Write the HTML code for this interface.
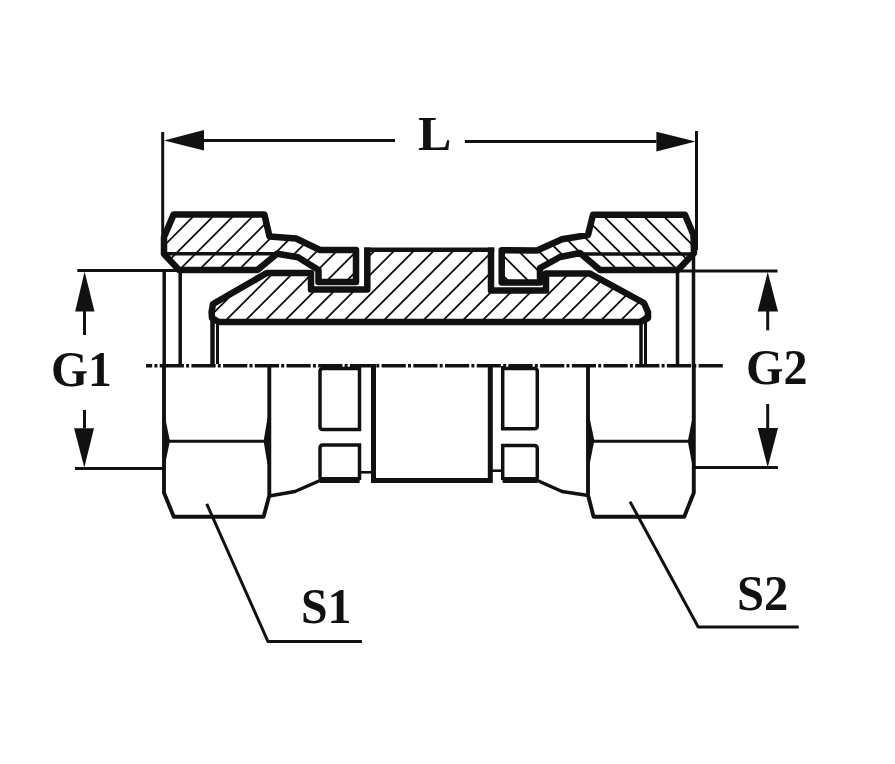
<!DOCTYPE html>
<html><head><meta charset="utf-8"><style>
html,body{margin:0;padding:0;background:#fff;}
body{width:895px;height:764px;position:relative;overflow:hidden;}
.t{position:absolute;font-family:"Liberation Serif",serif;font-weight:bold;font-size:49px;line-height:1;color:#111;white-space:nowrap;transform-origin:0 0;}
</style></head><body>
<svg width="895" height="764" viewBox="0 0 895 764" style="position:absolute;left:0;top:0">
<defs>
<clipPath id="cl1"><polygon points="173.6,214.6 264.4,214.6 269.5,236.5 296,238.5 320,250 356,250 356,282 318.5,282 318.5,270 298,257.3 277,253.8 257.4,270 179,270 164,254 164,237"/></clipPath>
<clipPath id="cl2"><polygon points="213,304 266.8,273 311,273 311,289.5 367.3,289.5 367.3,249.5 491,249.5 491,290.5 546,290.5 546,273.5 590,273.6 644,303 648,312 648,318 640,322 218.6,322 212,318 211.6,312"/></clipPath>
<clipPath id="cl3"><polygon points="685,214.8 593,214.8 588,235 562,239.3 537,250.5 501.7,250.3 501.7,282.5 540,282.5 540,268 560,257 580,253 600,270 678,270 694,253 693.5,235"/></clipPath>
</defs>
<path clip-path="url(#cl1)" d="M140.70,209.60L63.30,287.00M160.50,209.60L83.10,287.00M180.30,209.60L102.90,287.00M200.10,209.60L122.70,287.00M219.90,209.60L142.50,287.00M239.70,209.60L162.30,287.00M259.50,209.60L182.10,287.00M279.30,209.60L201.90,287.00M299.10,209.60L221.70,287.00M318.90,209.60L241.50,287.00M338.70,209.60L261.30,287.00M358.50,209.60L281.10,287.00M378.30,209.60L300.90,287.00M398.10,209.60L320.70,287.00M417.90,209.60L340.50,287.00M437.70,209.60L360.30,287.00" stroke="#111" stroke-width="1.8" fill="none"/>
<path clip-path="url(#cl2)" d="M202.95,244.50L120.45,327.00M222.70,244.50L140.20,327.00M242.45,244.50L159.95,327.00M262.20,244.50L179.70,327.00M281.95,244.50L199.45,327.00M301.70,244.50L219.20,327.00M321.45,244.50L238.95,327.00M341.20,244.50L258.70,327.00M360.95,244.50L278.45,327.00M380.70,244.50L298.20,327.00M400.45,244.50L317.95,327.00M420.20,244.50L337.70,327.00M439.95,244.50L357.45,327.00M459.70,244.50L377.20,327.00M479.45,244.50L396.95,327.00M499.20,244.50L416.70,327.00M518.95,244.50L436.45,327.00M538.70,244.50L456.20,327.00M558.45,244.50L475.95,327.00M578.20,244.50L495.70,327.00M597.95,244.50L515.45,327.00M617.70,244.50L535.20,327.00M637.45,244.50L554.95,327.00M657.20,244.50L574.70,327.00M676.95,244.50L594.45,327.00M696.70,244.50L614.20,327.00M716.45,244.50L633.95,327.00" stroke="#111" stroke-width="1.8" fill="none"/>
<path clip-path="url(#cl3)" d="M417.30,209.80L495.00,287.50M437.30,209.80L515.00,287.50M457.30,209.80L535.00,287.50M477.30,209.80L555.00,287.50M497.30,209.80L575.00,287.50M517.30,209.80L595.00,287.50M537.30,209.80L615.00,287.50M557.30,209.80L635.00,287.50M577.30,209.80L655.00,287.50M597.30,209.80L675.00,287.50M617.30,209.80L695.00,287.50M637.30,209.80L715.00,287.50M657.30,209.80L735.00,287.50M677.30,209.80L755.00,287.50M697.30,209.80L775.00,287.50" stroke="#111" stroke-width="1.8" fill="none"/>
<polygon points="173.6,214.6 264.4,214.6 269.5,236.5 296,238.5 320,250 356,250 356,282 318.5,282 318.5,270 298,257.3 277,253.8 257.4,270 179,270 164,254 164,237" fill="none" stroke="#111" stroke-width="6.5" stroke-linejoin="round" />
<polygon points="685,214.8 593,214.8 588,235 562,239.3 537,250.5 501.7,250.3 501.7,282.5 540,282.5 540,268 560,257 580,253 600,270 678,270 694,253 693.5,235" fill="none" stroke="#111" stroke-width="6.5" stroke-linejoin="round" />
<polyline points="491,247.4 491,290.5 546,290.5 546,273.5 590,273.6 644,303 648,312 648,318 640,322 218.6,322 212,318 211.6,312 213,304 266.8,273 311,273 311,289.5 367.3,289.5 367.3,247.4" fill="none" stroke="#111" stroke-width="6.5" stroke-linejoin="round"/>
<line x1="364.05" y1="249.7" x2="494.25" y2="249.7" stroke="#111" stroke-width="4.6"/>
<line x1="164" y1="253.7" x2="277" y2="253.7" stroke="#111" stroke-width="3.6"/>
<line x1="580" y1="254" x2="694" y2="254" stroke="#111" stroke-width="3.6"/>
<line x1="162.7" y1="132" x2="162.7" y2="250" stroke="#111" stroke-width="3"/>
<line x1="696.5" y1="131" x2="696.5" y2="250" stroke="#111" stroke-width="3"/>
<line x1="164.2" y1="270" x2="164.2" y2="366" stroke="#111" stroke-width="3.5"/>
<line x1="180.2" y1="270" x2="180.2" y2="364" stroke="#111" stroke-width="3.5"/>
<line x1="212.5" y1="320" x2="212.5" y2="364" stroke="#111" stroke-width="4.5"/>
<line x1="217.5" y1="320" x2="217.5" y2="364" stroke="#111" stroke-width="3"/>
<line x1="641" y1="322" x2="641" y2="364" stroke="#111" stroke-width="3.5"/>
<line x1="645.5" y1="322" x2="645.5" y2="364" stroke="#111" stroke-width="3"/>
<line x1="677.5" y1="270" x2="677.5" y2="364" stroke="#111" stroke-width="3.5"/>
<line x1="693.5" y1="253" x2="693.5" y2="366" stroke="#111" stroke-width="3.5"/>
<line x1="204" y1="140.5" x2="395" y2="140.5" stroke="#111" stroke-width="3"/>
<line x1="465" y1="141.4" x2="656.4" y2="141.4" stroke="#111" stroke-width="3"/>
<polygon points="164,140.5 204,130 204,150.5" fill="#111"/>
<polygon points="695.6,141.4 656.4,131.8 656.4,151.6" fill="#111"/>
<line x1="77.3" y1="270.5" x2="182" y2="270.5" stroke="#111" stroke-width="2.8"/>
<line x1="75" y1="468.5" x2="164" y2="468.5" stroke="#111" stroke-width="2.8"/>
<line x1="676" y1="271" x2="777.5" y2="271" stroke="#111" stroke-width="2.8"/>
<line x1="693" y1="467.5" x2="778" y2="467.5" stroke="#111" stroke-width="2.8"/>
<line x1="84.5" y1="311" x2="84.5" y2="335" stroke="#111" stroke-width="3"/>
<line x1="84.5" y1="410" x2="84.5" y2="428.5" stroke="#111" stroke-width="3"/>
<polygon points="84.6,271.5 75.2,311.5 94.5,311.5" fill="#111"/>
<polygon points="84.3,467.5 74.1,428.2 94,428.2" fill="#111"/>
<line x1="767.7" y1="311" x2="767.7" y2="330.3" stroke="#111" stroke-width="3"/>
<line x1="767.7" y1="404" x2="767.7" y2="428.5" stroke="#111" stroke-width="3"/>
<polygon points="767.7,272 757.7,311.6 778,311.6" fill="#111"/>
<polygon points="767.7,467.5 757.7,428.1 778,428.1" fill="#111"/>
<polyline points="164,366 164,492.8 173.8,516.8 263.6,516.8 269.3,495.5 269.3,366" fill="none" stroke="#111" stroke-width="3.9" stroke-linejoin="round" />
<line x1="166" y1="441.2" x2="267" y2="441.2" stroke="#111" stroke-width="3"/>
<polygon points="164,418.7 165.4,418.7 169.9,440.9 165.4,462.7 164,462.7" fill="#111"/>
<polygon points="269.3,417.8 267.5,417.8 263.6,441.2 267.5,464.6 269.3,464.6" fill="#111"/>
<polyline points="269.3,496 295,491.5 320,480.5" fill="none" stroke="#111" stroke-width="3.5" stroke-linejoin="round" />
<polyline points="588,366 588,495 593.6,516.8 684.2,516.8 693.8,492.8 693.8,366" fill="none" stroke="#111" stroke-width="3.9" stroke-linejoin="round" />
<line x1="590" y1="441.2" x2="692" y2="441.2" stroke="#111" stroke-width="3"/>
<polygon points="588,417.8 589.6,417.8 594.3,440.5 589.6,464.6 588,464.6" fill="#111"/>
<polygon points="693.8,418.7 692.2,418.7 687.8,441.2 692.2,464.6 693.8,464.6" fill="#111"/>
<polyline points="537.5,480.5 562,491.5 588.3,495.6" fill="none" stroke="#111" stroke-width="3.5" stroke-linejoin="round" />
<path d="M359.5,366 V429.5 H323 Q320,429.5 320,426.5 V371.5 Q320,368.6 323,368.6 H359.5" fill="none" stroke="#111" stroke-width="3.5"/>
<path d="M359.5,480 V445 H323 Q320,445 320,448 V477 Q320,480 323,480 H359.5" fill="none" stroke="#111" stroke-width="3.5"/>
<line x1="320" y1="480" x2="359.5" y2="480" stroke="#111" stroke-width="6"/>
<path d="M502.7,366 V428.8 H534.3 Q537.3,428.8 537.3,425.8 V371.5 Q537.3,368.6 534.3,368.6 H502.7" fill="none" stroke="#111" stroke-width="3.5"/>
<path d="M502.7,480 V445.6 H534.3 Q537.3,445.6 537.3,448.6 V477 Q537.3,480 534.3,480 H502.7" fill="none" stroke="#111" stroke-width="3.5"/>
<line x1="502.7" y1="480" x2="537.3" y2="480" stroke="#111" stroke-width="6"/>
<line x1="359.5" y1="472.3" x2="373" y2="472.3" stroke="#111" stroke-width="2.6"/>
<line x1="491" y1="470.7" x2="503" y2="470.7" stroke="#111" stroke-width="2.6"/>
<path d="M373.5,364 V480.4 H490.3 V364" fill="none" stroke="#111" stroke-width="5" stroke-linejoin="miter"/>
<polyline points="206.7,503.8 267.9,641.4 361.9,641.4" fill="none" stroke="#111" stroke-width="3" stroke-linejoin="round" stroke-linejoin="miter"/>
<polyline points="630,501.6 698.2,627 798.8,627" fill="none" stroke="#111" stroke-width="3" stroke-linejoin="round" stroke-linejoin="miter"/>
<line x1="146" y1="365.8" x2="723.5" y2="365.8" stroke="#111" stroke-width="3.6" stroke-dasharray="24.2 2.2 3 2.3" stroke-dashoffset="18"/>
</svg>
<div class="t" id="tL" style="left:418.43px;top:108.90px;transform:scale(1.0218,1.0000)">L</div>
<div class="t" id="tG1" style="left:51.38px;top:343.87px;transform:scale(0.9687,1.0273)">G1</div>
<div class="t" id="tG2" style="left:746.34px;top:341.92px;transform:scale(0.9828,1.0333)">G2</div>
<div class="t" id="tS1" style="left:301.46px;top:581.02px;transform:scale(0.9754,1.0333)">S1</div>
<div class="t" id="tS2" style="left:737.32px;top:567.92px;transform:scale(0.9926,1.0333)">S2</div>
</body></html>
